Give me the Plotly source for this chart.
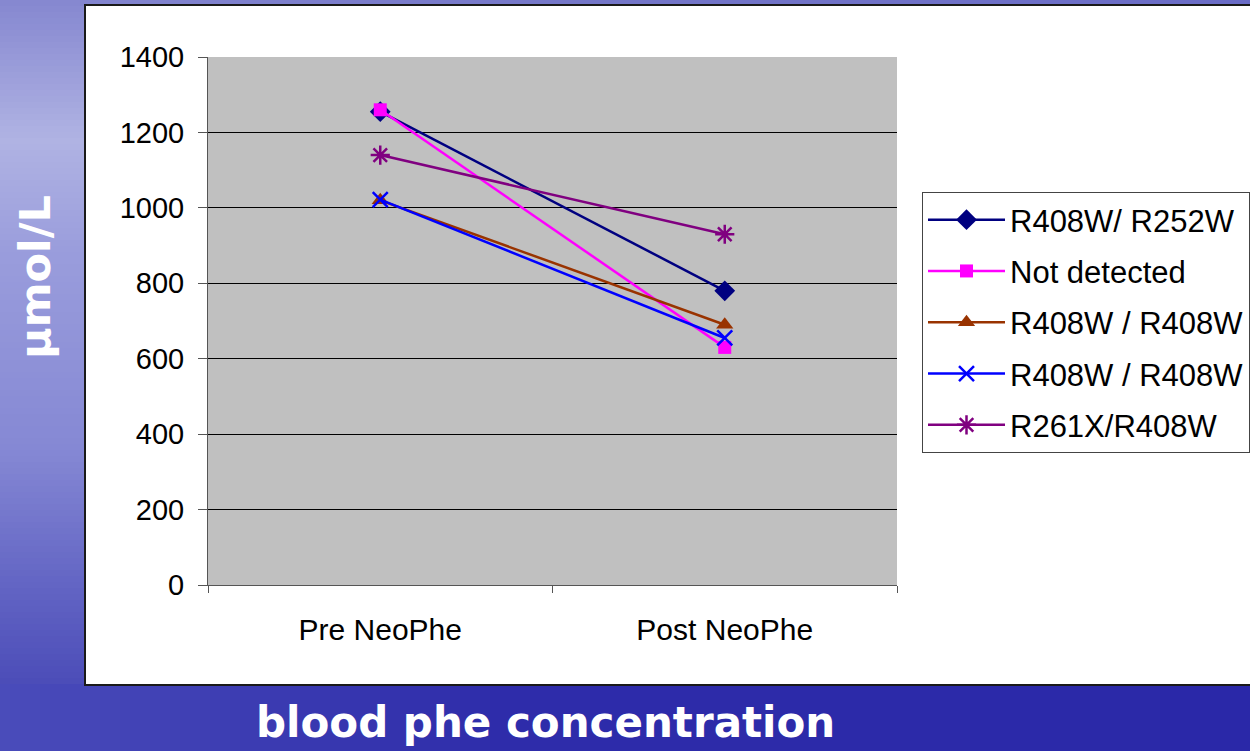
import plotly.graph_objects as go

categories = ["Pre NeoPhe", "Post NeoPhe"]
series_names = ["R408W/ R252W", "Not detected", "R408W / R408W", "R408W / R408W", "R261X/R408W"]
s1 = [1255, 780]
s2 = [1260, 630]
s3 = [1020, 690]
s4 = [1022, 655]
s5 = [1140, 930]
y_ticks = [0, 200, 400, 600, 800, 1000, 1200, 1400]

W, H = 1250, 751

def px(x):
    return x / W

def py(y):
    return 1 - y / H

def lerp(c1, c2, t):
    a = [int(c1[i:i+2], 16) for i in (1, 3, 5)]
    b = [int(c2[i:i+2], 16) for i in (1, 3, 5)]
    return "#%02x%02x%02x" % tuple(round(a[k] + (b[k] - a[k]) * t) for k in range(3))

def grad(stops, v):
    for i in range(len(stops) - 1):
        p0, c0 = stops[i]
        p1, c1 = stops[i + 1]
        if p0 <= v <= p1:
            return lerp(c0, c1, (v - p0) / (p1 - p0) if p1 > p0 else 0)
    return stops[-1][1]

shapes = []
# left strip vertical gradient
vstops = [(0, "#8587d0"), (140, "#b0b3e3"), (250, "#9a9ddc"), (450, "#8588d4"), (600, "#5f61c2"), (751, "#3c3cb0")]
step = 6
for y in range(0, H, step):
    c = grad(vstops, y + step / 2)
    shapes.append(dict(type="rect", xref="paper", yref="paper", x0=0, x1=px(86),
                       y0=py(y + step), y1=py(y), fillcolor=c, line=dict(width=0), layer="below"))
# top band
tstops = [(0, "#8587d0"), (600, "#7476c8"), (1250, "#6a6cc6")]
for x in range(80, W, 10):
    c = grad(tstops, x + 5)
    shapes.append(dict(type="rect", xref="paper", yref="paper", x0=px(x), x1=px(x + 10),
                       y0=py(6), y1=1, fillcolor=c, line=dict(width=0), layer="below"))
# bottom band horizontal gradient
bstops = [(0, "#4a4cba"), (250, "#3c3cb2"), (500, "#2e2caa"), (1250, "#2a28a8")]
for x in range(0, W, 10):
    c = grad(bstops, x + 5)
    shapes.append(dict(type="rect", xref="paper", yref="paper", x0=px(x), x1=px(x + 10),
                       y0=0, y1=py(684), fillcolor=c, line=dict(width=0), layer="below"))
# white chart box
shapes.append(dict(type="rect", xref="paper", yref="paper", x0=px(85), x1=px(1262),
                   y0=py(685), y1=py(5), fillcolor="white", line=dict(color="#1a1a1a", width=2), layer="below"))
# gray plot area
shapes.append(dict(type="rect", xref="x domain", yref="y domain", x0=0, x1=1, y0=0, y1=1,
                   fillcolor="#c0c0c0", line=dict(width=0), layer="below"))

fig = go.Figure()
styles = [
    dict(color="#000080", symbol="diamond", size=16, lw=0),
    dict(color="#ff00ff", symbol="square", size=13, lw=0),
    dict(color="#993300", symbol="triangle-up", size=15, lw=0),
    dict(color="#0000ff", symbol="x-thin", size=15, lw=2.5),
    dict(color="#800080", symbol="asterisk", size=16, lw=2.5),
]
for i, (name, vals, st) in enumerate(zip(series_names, [s1, s2, s3, s4, s5], styles)):
    fig.add_trace(go.Scatter(
        x=categories, y=vals, name=name, mode="lines+markers", legendgroup="g%d" % i,
        line=dict(color=st["color"], width=2.5),
        marker=dict(symbol=st["symbol"], size=st["size"], color=st["color"],
                    line=dict(color=st["color"], width=st["lw"])),
    ))

font_main = "Liberation Sans, Arial, sans-serif"
fig.update_layout(
    width=W, height=H,
    margin=dict(l=0, r=0, t=0, b=0),
    paper_bgcolor="#2a28a8",
    plot_bgcolor="#c0c0c0",
    showlegend=True,
    shapes=shapes,
    xaxis=dict(domain=[px(208), px(897)], type="category", tickson="boundaries",
               ticks="outside", ticklen=7, tickcolor="#555", showline=True, linecolor="#555",
               linewidth=1, showgrid=False, tickfont=dict(family=font_main, size=30, color="black"),
               range=[-0.5, 1.5], fixedrange=True, automargin=False, ticklabelstandoff=18),
    yaxis=dict(domain=[py(585), py(57)], range=[0, 1400], tickvals=y_ticks,
               ticks="outside", ticklen=9, tickcolor="#555", showline=True, linecolor="#555",
               linewidth=1, showgrid=True, gridcolor="#000000", gridwidth=1,
               tickfont=dict(family=font_main, size=29, color="black"), zeroline=False,
               automargin=False, ticklabelstandoff=8),
    legend=dict(x=px(922), y=py(192), xanchor="left", yanchor="top",
                bgcolor="white", bordercolor="#444", borderwidth=1,
                font=dict(family=font_main, size=31, color="black"),
                tracegroupgap=8, itemwidth=77),
    annotations=[
        dict(text="<b>μmol/L</b>", xref="paper", yref="paper", x=px(35), y=py(277), showarrow=False,
             textangle=-90, font=dict(family="DejaVu Sans, Verdana, sans-serif", size=43, color="white"),
             xanchor="center", yanchor="middle"),
        dict(text="<b>blood phe concentration</b>", xref="paper", yref="paper", x=px(545), y=py(722),
             showarrow=False, font=dict(family="DejaVu Sans, Verdana, sans-serif", size=42, color="white"),
             xanchor="center", yanchor="middle"),
    ],
)

fig.write_html("out.html", config={"displayModeBar": False},
               post_script="document.body.style.margin='0px';document.body.style.overflow='hidden';")
